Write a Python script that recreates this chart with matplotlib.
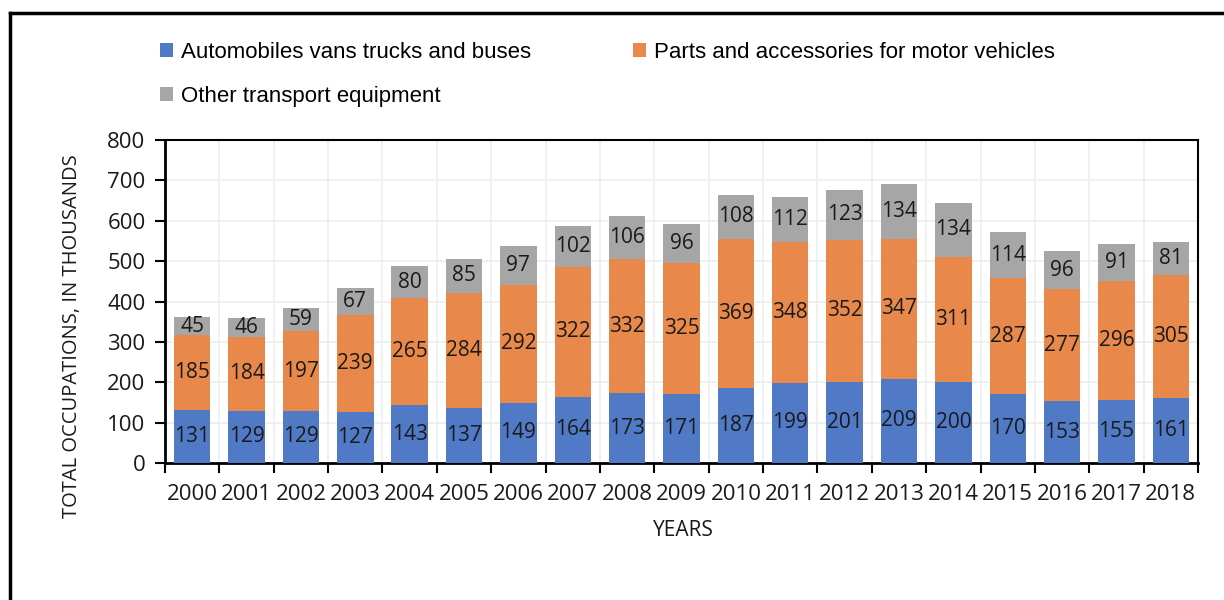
import numpy as np
import matplotlib.pyplot as plt
from matplotlib.lines import Line2D

# ── DATA (thousands of occupations) ────────────────────────────────
years = [str(y) for y in range(2000, 2019)]
automobiles = [131, 129, 129, 127, 143, 137, 149, 164, 173, 171,
               187, 199, 201, 209, 200, 170, 153, 155, 161]
parts = [185, 184, 197, 239, 265, 284, 292, 322, 332, 325,
         369, 348, 352, 347, 311, 287, 277, 296, 305]
other = [45, 46, 59, 67, 80, 85, 97, 102, 106, 96,
         108, 112, 123, 134, 134, 114, 96, 91, 81]
series_names = ["Automobiles vans trucks and buses",
                "Parts and accessories for motor vehicles",
                "Other transport equipment"]
# ────────────────────────────────────────────────────────────────────

COLORS = ["#5079C6", "#E8884B", "#A6A6A6"]
NUM_FONT = ["Open Sans", "DejaVu Sans"]
LEG_FONT = ["Liberation Sans", "DejaVu Sans"]


def main():
    fig = plt.figure(figsize=(12.24, 6.0), dpi=100)
    ax = fig.add_axes([0.1348, 0.2283, 0.844, 0.5384])

    x = np.arange(len(years))
    stacks = [automobiles, parts, other]
    bottom = np.zeros(len(years))
    handles = []
    for vals, color, name in zip(stacks, COLORS, series_names):
        vals = np.array(vals)
        bars = ax.bar(x, vals, width=0.67, bottom=bottom, color=color,
                      label=name, zorder=3)
        for xi, b, v in zip(x, bottom, vals):
            ax.text(xi, b + v / 2, str(v), ha="center", va="center",
                    fontsize=15, color="#1a1a1a", family=NUM_FONT, zorder=4)
        handles.append(bars)
        bottom = bottom + vals

    ax.set_xlim(-0.5, len(years) - 0.5)
    ax.set_ylim(0, 800)
    ax.set_yticks(np.arange(0, 801, 100))
    ax.set_xticks(x)
    ax.set_xticklabels(years)
    ax.set_xticks(np.arange(-0.5, len(years)), minor=True)
    ax.tick_params(axis="x", which="major", length=0, pad=15)
    ax.tick_params(axis="x", which="minor", length=7, width=1.5, direction="out")
    ax.tick_params(axis="y", length=7, width=1.5, direction="out", pad=7)
    for lab in ax.get_xticklabels() + ax.get_yticklabels():
        lab.set_family(NUM_FONT)
        lab.set_fontsize(16)
        lab.set_color("#1a1a1a")

    ax.grid(True, axis="y", color="#EDEDED", lw=1.2, zorder=0)
    ax.grid(True, axis="x", which="minor", color="#EDEDED", lw=1.2, zorder=0)
    for side in ["left", "bottom", "top", "right"]:
        ax.spines[side].set_linewidth(1.5)
        ax.spines[side].set_color("black")
    ax.spines["left"].set_linewidth(2)
    ax.spines["bottom"].set_linewidth(2)

    fig.text(0.059, 0.440, "TOTAL OCCUPATIONS, IN THOUSANDS", rotation=90,
             ha="center", va="center", fontsize=14.5, family=NUM_FONT,
             color="#1a1a1a")
    fig.text(0.558, 0.115, "YEARS", ha="center", va="center",
             fontsize=15, family=NUM_FONT, color="#1a1a1a")

    # legend: row 1 = automobiles, parts; row 2 = other
    fig.legend([handles[0], handles[2], handles[1]],
               [series_names[0], series_names[2], series_names[1]],
               ncol=2, loc="upper left", bbox_to_anchor=(0.114, 0.964),
               frameon=False, prop={"family": LEG_FONT, "size": 16},
               handlelength=0.6, handleheight=0.6, handletextpad=0.35,
               columnspacing=4.6, labelspacing=1.05)

    # outer frame (left and top edges)
    fig.add_artist(Line2D([0.0085, 0.0085], [0.0, 0.978], color="black",
                          lw=2.5, transform=fig.transFigure))
    fig.add_artist(Line2D([0.0085, 1.0], [0.978, 0.978], color="black",
                          lw=2.5, transform=fig.transFigure))

    fig.savefig("out.png", dpi=100)
    plt.close(fig)


if __name__ == "__main__":
    main()
